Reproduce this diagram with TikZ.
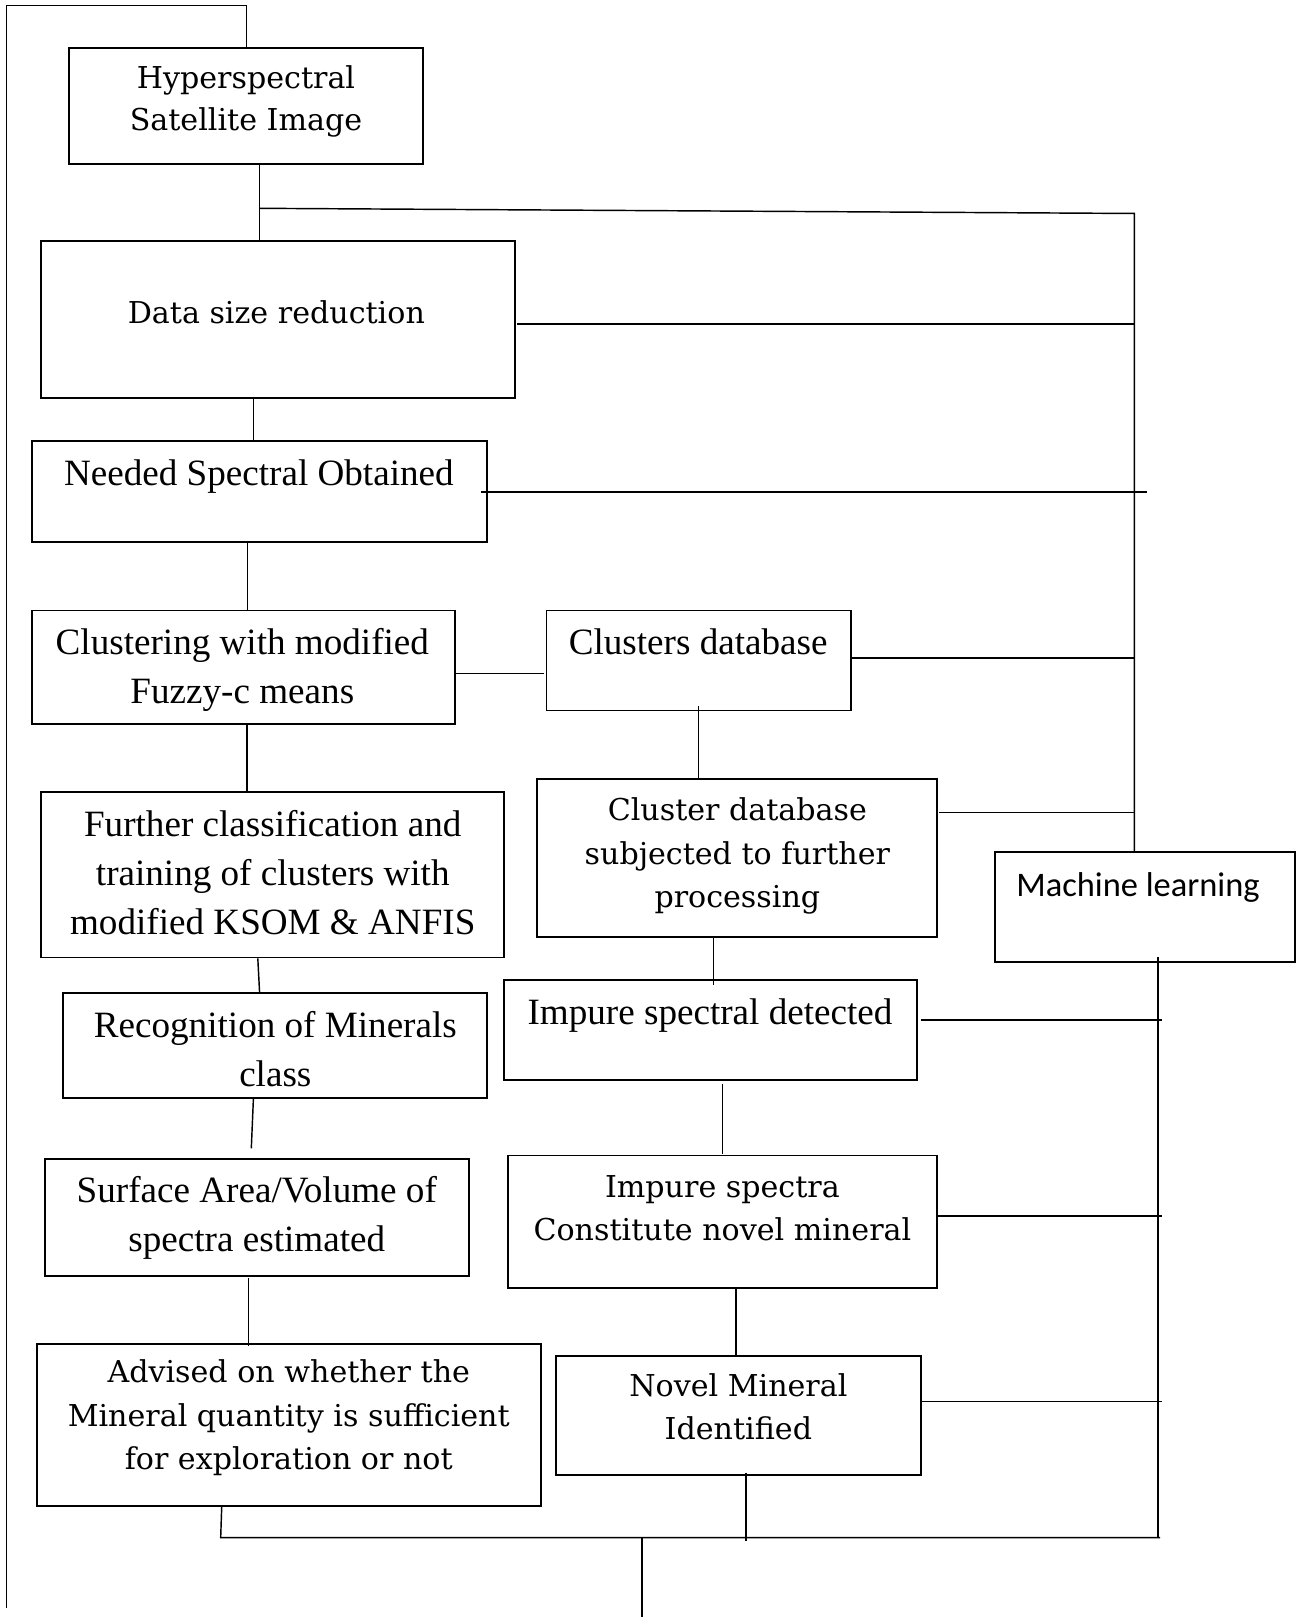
\documentclass[tikz,border=0pt]{standalone}
\usepackage{fontspec}
\usetikzlibrary{fit}
\newfontfamily\bookfont{DejaVu Serif}
\newfontfamily\timesfont{Liberation Serif}
\newfontfamily\calfont{Carlito}

\tikzset{
  box/.style={draw, line width=0.9pt, inner sep=0pt},
  wire/.style={line width=0.7pt},
  % text nodes are placed by the baseline of their last line
  txt/.style={anchor=base, inner sep=0pt, align=center},
  book/.style={txt, font=\bookfont\fontsize{14.6}{21}\selectfont},
  booktight/.style={txt, font=\bookfont\fontsize{14.6}{20.35}\selectfont},
  times/.style={txt, font=\timesfont\fontsize{18}{23.75}\selectfont},
  calib/.style={txt, font=\calfont\fontsize{16.7}{20}\selectfont}
}

\begin{document}
\begin{tikzpicture}[x=0.5pt, y=-0.5pt]
\useasboundingbox (0,0) rectangle (1258,1568);

% ---- boxes ----
\node[box, fit={(67,46.5) (410,159)}]       (b1) {};
\node[box, fit={(39.5,233.5) (499,386)}]    (b2) {};
\node[box, fit={(31,428) (472.5,525.5)}]    (b3) {};
\node[box, fit={(31,592) (441,702)}]        (b4) {};
\node[box, fit={(530,592) (825,689)}]       (b5) {};
\node[box, fit={(40,768) (489,928.5)}]      (b6) {};
\node[box, fit={(521,755.5) (909,908.5)}]   (b7) {};
\node[box, fit={(965,826) (1256,933)}]      (ml) {};
\node[box, fit={(61.5,963) (472.5,1065)}]   (b8) {};
\node[box, fit={(488.5,950) (889,1047.5)}]  (b9) {};
\node[box, fit={(492.5,1120.5) (908.5,1249)}] (b10) {};
\node[box, fit={(43.5,1124) (454.5,1237)}]  (b11) {};
\node[box, fit={(35.5,1303) (525,1460)}]    (b12) {};
\node[box, fit={(539,1315) (893,1430.5)}]   (b13) {};

% ---- box texts ----
\node[booktight] (t1) at (238.5,127) {Hyperspectral\\Satellite Image};
\node[book]  (t2)  at (268,314)    {Data size reduction};
\node[times] (t3)  at (251,470.5)  {Needed Spectral Obtained};
\node[times] (t4)  at (235,682)    {Clustering with modified\\Fuzzy-c means};
\node[times] (t5)  at (677,635)    {Clusters database};
\node[times] (t6)  at (264.5,906)  {Further classification and\\training of clusters with\\modified KSOM \& ANFIS};
\node[book]  (t7)  at (715,880)    {Cluster database\\subjected to further\\processing};
\node[calib] (tml) at (1103.5,869) {Machine learning};
\node[times] (t8)  at (267,1054)   {Recognition of Minerals\\class};
\node[times] (t9)  at (688.5,993.5) {Impure spectral detected};
\node[book]  (t10) at (700.5,1203) {Impure spectra\\Constitute novel mineral};
\node[times] (t11) at (249,1214)   {Surface Area/Volume of\\spectra estimated};
\node[book]  (t12) at (280,1425)   {Advised on whether the\\Mineral quantity is sufficient\\for exploration or not};
\node[book]  (t13) at (716,1396)   {Novel Mineral\\Identified};

% ---- junction points ----
\coordinate (tl)  at (6.5,5.5);
\coordinate (tr)  at (239,5.5);
\coordinate (lb)  at (6.5,1559);
\coordinate (j1)  at (251.5,202);
\coordinate (rc)  at (1100,207);
\coordinate (bl)  at (214,1491);
\coordinate (br)  at (1125,1491);
\coordinate (out) at (622.5,1568);

% ---- feedback loop on the left ----
\draw[wire] (lb) -- (tl) -- (tr) -- (b1.north -| tr);

% ---- main chain (left column) ----
\draw[wire] (b1.south -| j1) -- (b2.north -| j1);
\draw[wire] (b2.south -| 245.7,0) -- (b3.north -| 245.7,0);
\draw[wire] (b3.south -| 240,0) -- (b4.north -| 240,0);
\draw[wire] (b4.south -| 239.4,0) -- (b6.north -| 239.4,0);
\draw[wire] (b6.south -| 250,0) -- (b8.north -| 251.7,0);
\draw[wire] (b8.south -| 245.7,0) -- (243.7,1113.5);
\draw[wire] (241,1239) -- (241,1305);

% ---- middle column ----
\draw[wire] (b4.east |- 0,653) -- (527.6,653);
\draw[wire] (677.5,685) -- (b7.north -| 677.5,0);
\draw[wire] (b7.south -| 691.6,0) -- (691.6,955.5);
\draw[wire] (700.6,1050.7) -- (700.6,1118.7);
\draw[wire] (b10.south -| 713.8,0) -- (b13.north -| 713.8,0);

% ---- right bus to machine learning ----
\draw[wire] (j1) -- (rc) -- (ml.north -| rc);
\draw[wire] (501.5,314) -- (rc |- 0,314);
\draw[wire] (466.5,477) -- (1112.5,477);
\draw[wire] (b5.east |- 0,638) -- (rc |- 0,638);
\draw[wire] (911,788) -- (rc |- 0,788);

% ---- machine learning down to the output bus ----
\draw[wire] (1123,928) -- (1123,1491);
\draw[wire] (892.6,989) -- (1126.7,989);
\draw[wire] (b10.east |- 0,1179) -- (1126.7,1179);
\draw[wire] (b13.east |- 0,1359) -- (1126.7,1359);

% ---- output bus ----
\draw[wire] (b12.south -| 215,0) -- (bl) -- (br);
\draw[wire] (723.4,1428) -- (723.4,1494);
\draw[wire] (out |- bl) -- (out);
\end{tikzpicture}
\end{document}
